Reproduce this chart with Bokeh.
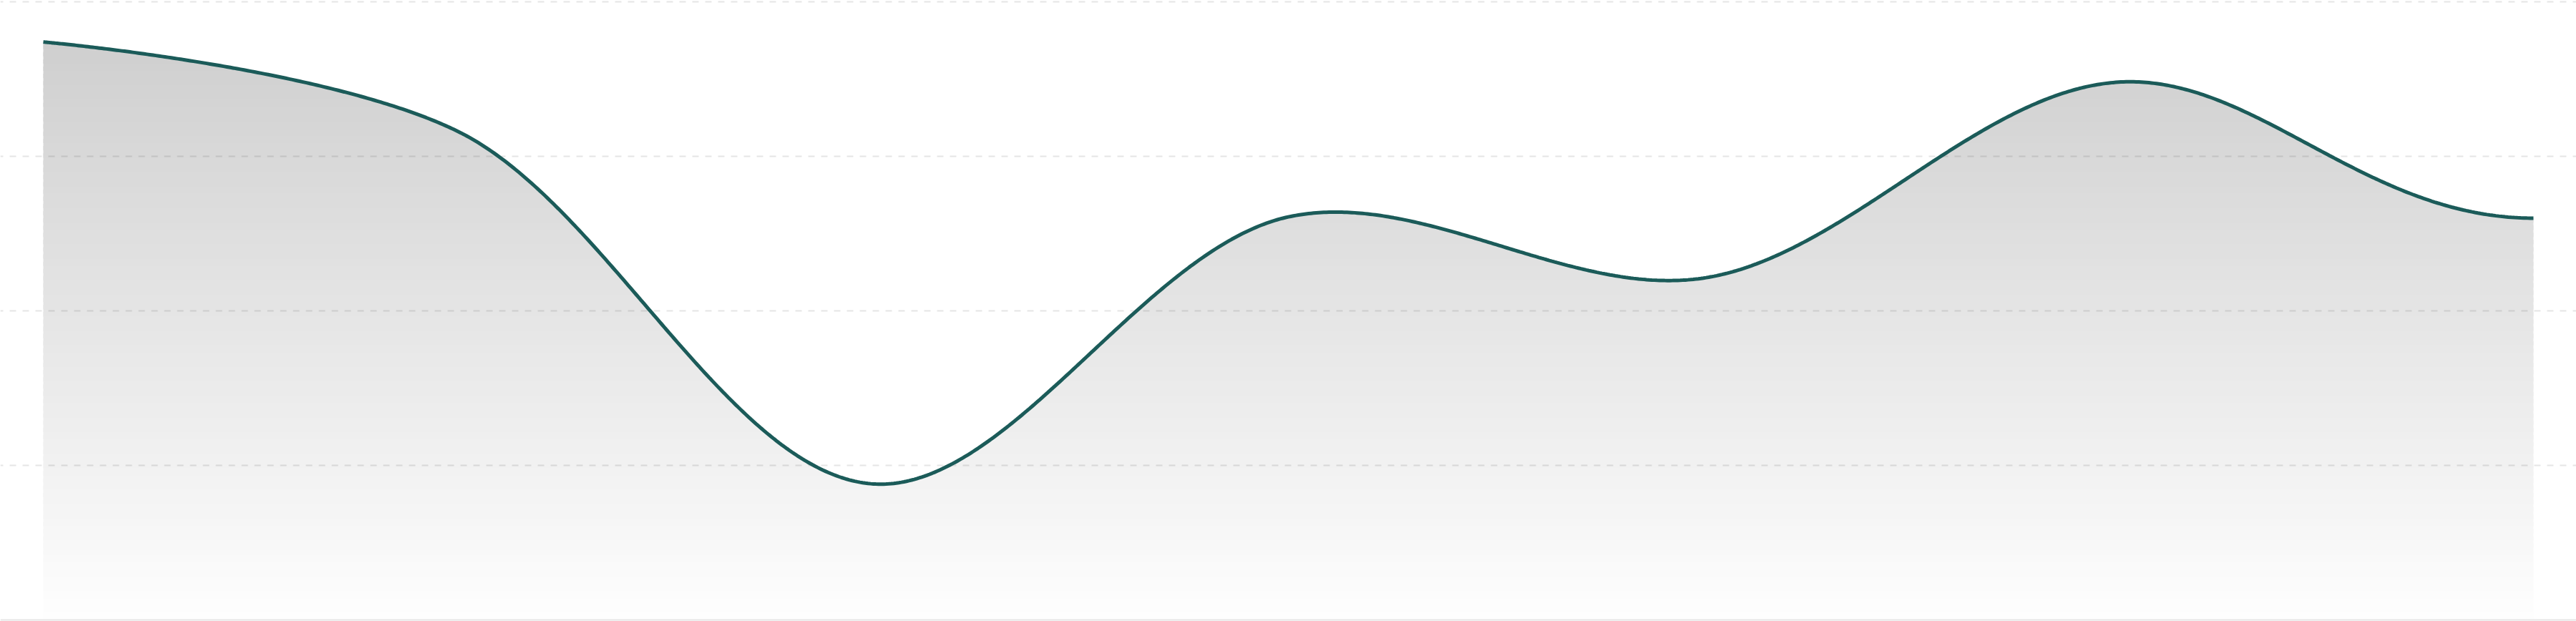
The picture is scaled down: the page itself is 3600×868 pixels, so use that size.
import numpy as np
from bokeh.plotting import figure
from bokeh.models import Range1d, FixedTicker, Span
from bokeh.embed import file_html
from bokeh.resources import INLINE

# ---- data (one value per category step, 0-100 scale) ----
x_idx = [0, 1, 2, 3, 4, 5, 6]
values = [93.5, 79.0, 22.0, 65.2, 55.3, 87.0, 65.0]
grid_ticks = [25, 50, 75, 100]

W, H = 3600, 868
PX_X = 580.0           # px per category step
PX_Y = 8.64            # px per value unit
x_start = -60.0 / PX_X
x_end = x_start + W / PX_X
y_start = -2.0 / PX_Y
y_end = y_start + H / PX_Y


def smooth_curve(xs, ys, alpha=0.5, end_handle=0.41, n=160):
    """Centripetal Catmull-Rom bezier spline (computed in pixel space).
    The first segment starts on its own point; the last one arrives level."""
    P = np.column_stack([np.asarray(xs, float) * PX_X, np.asarray(ys, float) * PX_Y])
    out = []
    eps = 1e-9
    last = len(P) - 2
    for i in range(len(P) - 1):
        p1, p2 = P[i], P[i + 1]
        p0 = P[i - 1] if i > 0 else p1
        p3 = P[i + 2] if i + 2 < len(P) else p2
        l01 = np.hypot(*(p1 - p0)); l12 = np.hypot(*(p2 - p1)); l23 = np.hypot(*(p3 - p2))
        l01a, l12a, l23a = l01 ** alpha, l12 ** alpha, l23 ** alpha
        l01_2a, l12_2a, l23_2a = l01 ** (2 * alpha), l12 ** (2 * alpha), l23 ** (2 * alpha)
        c1 = p1.copy()
        if l01a > eps:
            a = 2 * l01_2a + 3 * l01a * l12a + l12_2a
            nn = 3 * l01a * (l01a + l12a)
            c1 = (p1 * a - p0 * l12_2a + p2 * l01_2a) / nn
        if i == last:
            c2 = np.array([p2[0] - end_handle * (p2[0] - p1[0]), p2[1]])
        else:
            b = 2 * l23_2a + 3 * l23a * l12a + l12_2a
            m = 3 * l23a * (l23a + l12a)
            c2 = (p2 * b + p1 * l23_2a - p3 * l12_2a) / m
        t = np.linspace(0, 1, n)[:, None]
        if i > 0:
            t = t[1:]
        seg = ((1 - t) ** 3) * p1 + 3 * ((1 - t) ** 2) * t * c1 + 3 * (1 - t) * t ** 2 * c2 + t ** 3 * p2
        out.append(seg)
    pts = np.vstack(out)
    return pts[:, 0] / PX_X, pts[:, 1] / PX_Y


cx, cy = smooth_curve(x_idx, values)

p = figure(width=W, height=H, output_backend="svg", toolbar_location=None, tools="",
           x_range=Range1d(x_start, x_end), y_range=Range1d(y_start, y_end),
           min_border=0, background_fill_color="white", border_fill_color="white")
p.outline_line_color = None
p.xaxis.visible = False
p.yaxis.visible = False
p.xgrid.visible = False
p.ygrid.ticker = FixedTicker(ticks=grid_ticks)
p.ygrid.grid_line_color = "#000000"
p.ygrid.grid_line_alpha = 0.10
p.ygrid.grid_line_width = 2
p.ygrid.grid_line_dash = "9 9"
p.ygrid.grid_line_dash_offset = 5

# vertical grey-to-white gradient under the curve, built from thin bands
vtop = float(cy.max())
n_bands = 80
top_gray, bot_gray = 207, 254
for k in range(n_bands):
    lo = vtop * k / n_bands
    hi = vtop * (k + 1) / n_bands
    tmid = (k + 0.5) / n_bands
    g = int(round(bot_gray + (top_gray - bot_gray) * tmid))
    col = "#%02x%02x%02x" % (g, g, g)
    y1 = np.minimum(cy, lo)
    y2 = np.minimum(cy, hi + (vtop / n_bands) * 0.6)
    p.varea(x=cx, y1=y1, y2=y2, fill_color=col, fill_alpha=1.0, level="image")

p.line(cx, cy, line_color="#1b5b59", line_width=5)

p.add_layout(Span(location=0, dimension="width", line_color="#e6e6e6", line_width=2))

open("out.html", "w").write(file_html(p, INLINE))
